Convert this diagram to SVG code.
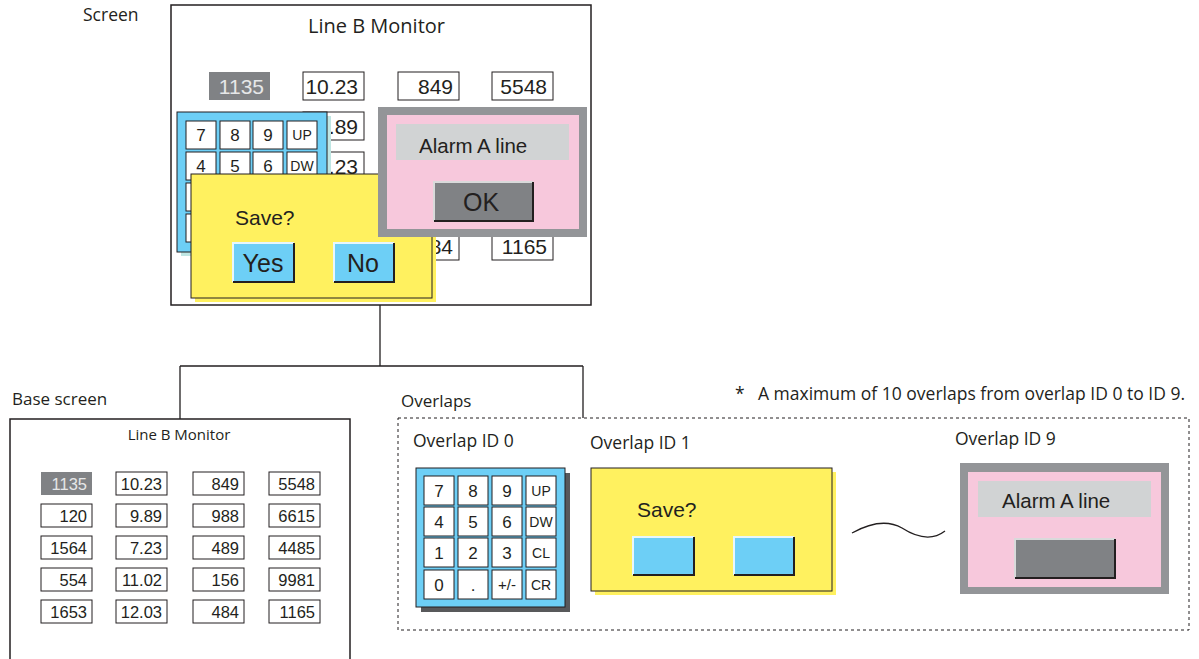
<svg xmlns="http://www.w3.org/2000/svg" width="1199" height="659" viewBox="0 0 1199 659">
<style>
.lbl{font-family:"Open Sans","Noto Sans",sans-serif;fill:#231f20}
.num{font-family:"Liberation Sans",Arial,sans-serif;fill:#231f20}
.cell{fill:#fff;stroke:#231f20;stroke-width:1}
.dark{fill:#808285}
.frame{fill:#fff;stroke:#231f20;stroke-width:1.5}
.conn{fill:none;stroke:#231f20;stroke-width:1.3}
.key{fill:#fff;stroke:#231f20;stroke-width:1}
.pad{fill:#6dcff6;stroke:#231f20;stroke-width:1}
.yel{fill:#fff15f}
.yelb{fill:#fff15f;stroke:#231f20;stroke-width:1}
.btn{fill:#6dcff6}
.gbtn{fill:#808285}
.hi{fill:none;stroke:#e6f7fd;stroke-width:2}
.ghi{fill:none;stroke:#d9dadb;stroke-width:2}
.lo{fill:none;stroke:#231f20;stroke-width:2}
.agray{fill:#939598}
.pink{fill:#f7c8dc}
.bar{fill:#d1d3d4}
</style>

<g id="connectors">
<path class="conn" d="M380,305 V366 M180,366 H583 M180,366 V419 M583,366 V418"/>
<path class="conn" d="M852,533 C870,523 888,520 902,528 C916,537 932,541 945,531"/>
</g>

<g id="screen-label"><text class="lbl" x="83" y="21" font-size="17.5">Screen</text></g>

<g id="screen">
<rect class="frame" x="171" y="5" width="420" height="300"/>
<text class="lbl" x="376.5" y="33" font-size="20" text-anchor="middle">Line B Monitor</text>
<g class="num" font-size="21" text-anchor="end">
<rect class="dark" x="209" y="72" width="61" height="28"/><text x="264" y="94" style="fill:#e6e7e8">1135</text>
<rect class="cell" x="303" y="72" width="61" height="28"/><text x="358" y="94">10.23</text>
<rect class="cell" x="398" y="72" width="61" height="28"/><text x="453" y="94">849</text>
<rect class="cell" x="492" y="72" width="61" height="28"/><text x="547" y="94">5548</text>
<rect class="cell" x="303" y="112" width="61" height="28"/><text x="358" y="134">9.89</text>
<rect class="cell" x="303" y="152" width="61" height="28"/><text x="358" y="174">7.23</text>
<rect class="cell" x="398" y="232" width="61" height="28"/><text x="453" y="254">484</text>
<rect class="cell" x="492" y="232" width="61" height="28"/><text x="547" y="254">1165</text>
</g>
<!-- keypad -->
<rect x="181" y="116" width="150" height="140" fill="#bfe6e3"/>
<rect class="pad" x="177" y="112" width="150" height="140"/>
<g class="num" font-size="17" text-anchor="middle">
<rect class="key" x="186" y="121" width="30" height="28"/><text x="201" y="141">7</text>
<rect class="key" x="220" y="121" width="30" height="28"/><text x="235" y="141">8</text>
<rect class="key" x="253" y="121" width="30" height="28"/><text x="268" y="141">9</text>
<rect class="key" x="287" y="121" width="30" height="28"/><text x="302" y="140" font-size="14">UP</text>
<rect class="key" x="186" y="152" width="30" height="28"/><text x="201" y="172">4</text>
<rect class="key" x="220" y="152" width="30" height="28"/><text x="235" y="172">5</text>
<rect class="key" x="253" y="152" width="30" height="28"/><text x="268" y="172">6</text>
<rect class="key" x="287" y="152" width="30" height="28"/><text x="302" y="171" font-size="14">DW</text>
<rect class="key" x="186" y="183" width="30" height="28"/>
<rect class="key" x="186" y="214" width="30" height="28"/>
</g>
<!-- save dialog -->
<rect class="yel" x="195" y="178" width="241" height="124"/>
<rect class="yelb" x="191" y="174" width="241" height="124"/>
<text class="num" x="235" y="225" font-size="21">Save?</text>
<rect class="btn" x="232" y="242" width="62" height="40"/>
<path class="hi" d="M233,282 V243 H294"/>
<path class="lo" d="M233,282 H294 V243"/>
<text class="num" x="263" y="272" font-size="25" text-anchor="middle">Yes</text>
<rect class="btn" x="333" y="242" width="61" height="40"/>
<path class="hi" d="M334,282 V243 H394"/>
<path class="lo" d="M334,282 H394 V243"/>
<text class="num" x="363" y="272" font-size="25" text-anchor="middle">No</text>
<!-- alarm -->
<rect class="agray" x="378" y="107" width="209" height="130"/>
<rect class="pink" x="387" y="115" width="192" height="114"/>
<rect class="bar" x="396" y="124" width="173" height="36"/>
<text class="num" x="419" y="153" font-size="20.5">Alarm A line</text>
<rect class="gbtn" x="433" y="181" width="100" height="40"/>
<path class="ghi" d="M434,221 V182 H533"/>
<path class="lo" d="M434,221 H533 V182"/>
<text class="num" x="481" y="211" font-size="25" text-anchor="middle">OK</text>
</g>

<g id="base-screen">
<text class="lbl" x="12" y="405" font-size="17">Base screen</text>
<rect class="frame" x="10" y="419" width="340" height="250"/>
<text class="lbl" x="179" y="440" font-size="15" text-anchor="middle">Line B Monitor</text>
<g class="num" font-size="16.5" text-anchor="end">
<rect class="dark" x="41" y="472" width="51" height="23"/><text x="87" y="490" style="fill:#e6e7e8">1135</text>
<rect class="cell" x="116" y="472" width="51" height="23"/><text x="162" y="490">10.23</text>
<rect class="cell" x="193" y="472" width="51" height="23"/><text x="239" y="490">849</text>
<rect class="cell" x="269" y="472" width="51" height="23"/><text x="315" y="490">5548</text>
<rect class="cell" x="41" y="504" width="51" height="23"/><text x="87" y="522">120</text>
<rect class="cell" x="116" y="504" width="51" height="23"/><text x="162" y="522">9.89</text>
<rect class="cell" x="193" y="504" width="51" height="23"/><text x="239" y="522">988</text>
<rect class="cell" x="269" y="504" width="51" height="23"/><text x="315" y="522">6615</text>
<rect class="cell" x="41" y="536" width="51" height="23"/><text x="87" y="554">1564</text>
<rect class="cell" x="116" y="536" width="51" height="23"/><text x="162" y="554">7.23</text>
<rect class="cell" x="193" y="536" width="51" height="23"/><text x="239" y="554">489</text>
<rect class="cell" x="269" y="536" width="51" height="23"/><text x="315" y="554">4485</text>
<rect class="cell" x="41" y="568" width="51" height="23"/><text x="87" y="586">554</text>
<rect class="cell" x="116" y="568" width="51" height="23"/><text x="162" y="586">11.02</text>
<rect class="cell" x="193" y="568" width="51" height="23"/><text x="239" y="586">156</text>
<rect class="cell" x="269" y="568" width="51" height="23"/><text x="315" y="586">9981</text>
<rect class="cell" x="41" y="600" width="51" height="23"/><text x="87" y="618">1653</text>
<rect class="cell" x="116" y="600" width="51" height="23"/><text x="162" y="618">12.03</text>
<rect class="cell" x="193" y="600" width="51" height="23"/><text x="239" y="618">484</text>
<rect class="cell" x="269" y="600" width="51" height="23"/><text x="315" y="618">1165</text>
</g>
</g>

<g id="overlaps">
<text class="lbl" x="401" y="407" font-size="17">Overlaps</text>
<rect x="398" y="418" width="791" height="212" fill="none" stroke="#231f20" stroke-width="1" stroke-dasharray="3,3"/>
</g>

<g id="note">
<text class="lbl" x="735" y="400" font-size="17.5"><tspan x="735">*</tspan><tspan x="758">A maximum of 10 overlaps from overlap ID 0 to ID 9.</tspan></text>
</g>

<g id="overlap-0">
<text class="lbl" x="413" y="447" font-size="17.5">Overlap ID 0</text>
<rect x="421" y="473" width="149" height="139" fill="#58595b"/>
<rect class="pad" x="416" y="468" width="149" height="139"/>
<g class="num" font-size="17" text-anchor="middle">
<rect class="key" x="424" y="476" width="30" height="29"/><text x="439" y="497">7</text>
<rect class="key" x="458" y="476" width="30" height="29"/><text x="473" y="497">8</text>
<rect class="key" x="492" y="476" width="30" height="29"/><text x="507" y="497">9</text>
<rect class="key" x="526" y="476" width="30" height="29"/><text x="541" y="496" font-size="14">UP</text>
<rect class="key" x="424" y="507" width="30" height="29"/><text x="439" y="528">4</text>
<rect class="key" x="458" y="507" width="30" height="29"/><text x="473" y="528">5</text>
<rect class="key" x="492" y="507" width="30" height="29"/><text x="507" y="528">6</text>
<rect class="key" x="526" y="507" width="30" height="29"/><text x="541" y="527" font-size="14">DW</text>
<rect class="key" x="424" y="538" width="30" height="29"/><text x="439" y="559">1</text>
<rect class="key" x="458" y="538" width="30" height="29"/><text x="473" y="559">2</text>
<rect class="key" x="492" y="538" width="30" height="29"/><text x="507" y="559">3</text>
<rect class="key" x="526" y="538" width="30" height="29"/><text x="541" y="558" font-size="14">CL</text>
<rect class="key" x="424" y="570" width="30" height="29"/><text x="439" y="591">0</text>
<rect class="key" x="458" y="570" width="30" height="29"/><text x="473" y="591">.</text>
<rect class="key" x="492" y="570" width="30" height="29"/><text x="507" y="590" font-size="15">+/-</text>
<rect class="key" x="526" y="570" width="30" height="29"/><text x="541" y="590" font-size="14">CR</text>
</g>
</g>

<g id="overlap-1">
<text class="lbl" x="590" y="449" font-size="17.5">Overlap ID 1</text>
<rect class="yel" x="595" y="472" width="241" height="123"/>
<rect class="yelb" x="591" y="468" width="241" height="123"/>
<text class="num" x="637" y="517" font-size="21">Save?</text>
<rect class="btn" x="632" y="536" width="62" height="39"/>
<path class="hi" d="M633,575 V537 H694"/>
<path class="lo" d="M633,575 H694 V537"/>
<rect class="btn" x="733" y="536" width="61" height="39"/>
<path class="hi" d="M734,575 V537 H794"/>
<path class="lo" d="M734,575 H794 V537"/>
</g>

<g id="overlap-9">
<text class="lbl" x="955" y="445" font-size="17.5">Overlap ID 9</text>
<rect class="agray" x="960" y="463" width="209" height="131"/>
<rect class="pink" x="968" y="472" width="193" height="115"/>
<rect class="bar" x="978" y="481" width="173" height="36"/>
<text class="num" x="1002" y="508" font-size="20.5">Alarm A line</text>
<rect class="gbtn" x="1014" y="538" width="101" height="40"/>
<path class="ghi" d="M1015,578 V539 H1115"/>
<path class="lo" d="M1015,578 H1115 V539"/>
</g>
</svg>
